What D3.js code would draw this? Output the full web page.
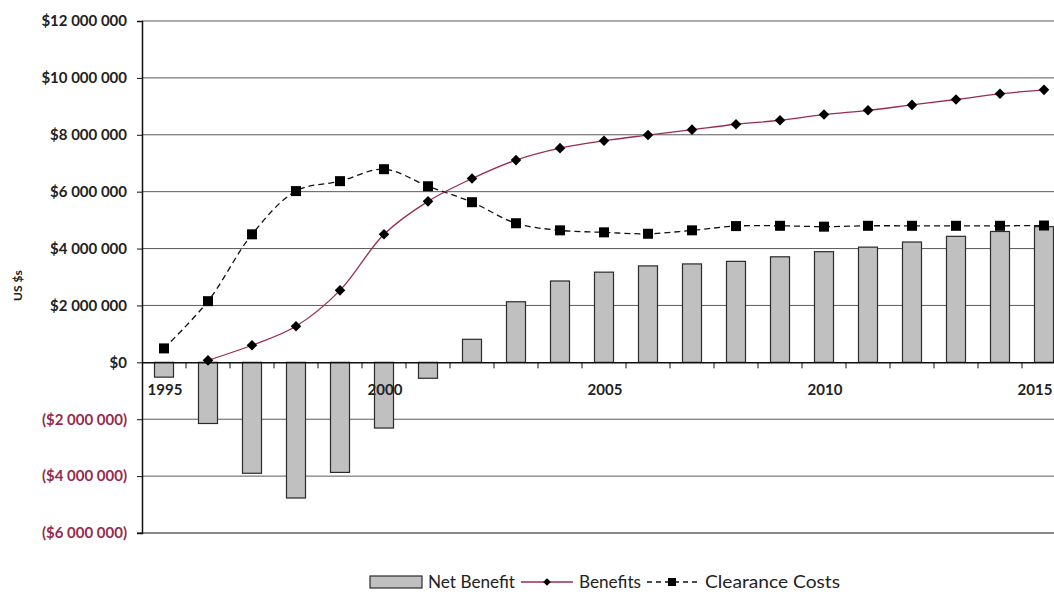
<!DOCTYPE html>
<html>
<head>
<meta charset="utf-8">
<script src="https://cdn.jsdelivr.net/npm/d3@7"></script>
<style>
  body { margin: 0; background: #fff; }
  svg { display: block; }
  text { font-family: "Lato", "DejaVu Sans", sans-serif; }
</style>
</head>
<body>
<svg id="chart" width="1054" height="594"></svg>
<script>
// chart values
const years = d3.range(1995, 2016);
const netBenefit = [-0.52, -2.15, -3.9, -4.77, -3.87, -2.31, -0.56, 0.81, 2.13, 2.86, 3.17, 3.39,
    3.46, 3.55, 3.71, 3.89, 4.05, 4.23, 4.43, 4.6, 4.77].map(v => v * 1e6);
const benefits = [null, 0.07, 0.6, 1.27, 2.53, 4.5, 5.66, 6.46, 7.11, 7.53, 7.79, 7.99,
    8.18, 8.37, 8.51, 8.71, 8.86, 9.05, 9.24, 9.44, 9.58].map(v => v === null ? null : v * 1e6);
const clearanceCosts = [0.49, 2.15, 4.5, 6.02, 6.37, 6.79, 6.19, 5.63, 4.89, 4.64, 4.57, 4.52,
    4.64, 4.79, 4.8, 4.77, 4.8, 4.8, 4.8, 4.8, 4.81].map(v => v * 1e6);
const yTicks = [-6e6, -4e6, -2e6, 0, 2e6, 4e6, 6e6, 8e6, 10e6, 12e6];
const xLabelYears = [1995, 2000, 2005, 2010, 2015];

const W = 1054;
const svg = d3.select('#chart');
const margin = { left: 142, top: 21 };
const plotBottom = 533;

const x = d3.scaleBand().domain(years).range([margin.left, margin.left + years.length * 44]);
const y = d3.scaleLinear().domain([-6e6, 12e6]).range([plotBottom, margin.top]);

const fmt = v => {
    const s = d3.format(',')(Math.abs(v)).replace(/,/g, ' ');
    return v < 0 ? '($' + s + ')' : '$' + s;
};

// gridlines
svg.append('g')
    .selectAll('line')
    .data(yTicks.filter(d => d !== 0 && d !== -6e6))
    .enter()
    .append('line')
    .attr('x1', margin.left)
    .attr('x2', W)
    .attr('y1', d => y(d))
    .attr('y2', d => y(d))
    .attr('stroke', '#5a5a5a')
    .attr('stroke-width', 1);

// y axis
const yAxis = svg.append('g')
    .attr('transform', `translate(${margin.left},0)`)
    .call(d3.axisLeft(y).tickValues(yTicks).tickSize(5).tickFormat(fmt));
yAxis.select('.domain').attr('stroke', '#111').attr('stroke-width', 1.5);
yAxis.selectAll('.tick line').attr('stroke', '#111');
yAxis.selectAll('.tick text')
    .attr('x', -15)
    .style('font-size', '15px')
    .style('font-weight', 'bold')
    .attr('fill', d => d < 0 ? '#962b4d' : '#222');

// bottom border line
svg.append('line')
    .attr('x1', margin.left - 5).attr('x2', W)
    .attr('y1', y(-6e6)).attr('y2', y(-6e6))
    .attr('stroke', '#111').attr('stroke-width', 1.2);

// y axis title
svg.append('text')
    .attr('transform', `translate(22,${y(4e6) + 37}) rotate(-90)`)
    .attr('text-anchor', 'middle')
    .style('font-size', '12px')
    .style('font-weight', 'bold')
    .attr('fill', '#222')
    .text('US $s');

// net benefit bars
const barW = 19;
svg.append('g')
    .selectAll('rect')
    .data(years.map((yr, i) => ({ yr, v: netBenefit[i] })))
    .enter()
    .append('rect')
    .attr('x', d => x(d.yr) + x.bandwidth() / 2 - barW / 2)
    .attr('width', barW)
    .attr('y', d => y(Math.max(0, d.v)))
    .attr('height', d => Math.abs(y(d.v) - y(0)))
    .attr('fill', '#c0c0c0')
    .attr('stroke', '#2a2a2a')
    .attr('stroke-width', 1.2);

// zero axis with category ticks
const xAxis = svg.append('g')
    .attr('transform', `translate(0,${y(0)})`)
    .call(d3.axisBottom(x).tickValues([]).tickSizeOuter(0));
xAxis.select('.domain').attr('stroke', '#111').attr('stroke-width', 1.5);
xAxis.selectAll('line.cat-tick')
    .data(years.slice(1))
    .enter()
    .append('line')
    .classed('cat-tick', true)
    .attr('x1', d => x(d))
    .attr('x2', d => x(d))
    .attr('y1', 0)
    .attr('y2', 6)
    .attr('stroke', '#111');
xAxis.selectAll('text.yr')
    .data(xLabelYears)
    .enter()
    .append('text')
    .classed('yr', true)
    .attr('x', d => Math.min(x(d) + x.bandwidth() / 2 + 1, W - 19))
    .attr('y', 33)
    .attr('text-anchor', 'middle')
    .style('font-size', '15px')
    .style('font-weight', 'bold')
    .attr('fill', '#222')
    .text(d => d);

const cx = yr => x(yr) + x.bandwidth() / 2;

// clearance costs, dashed
const costPts = years.map((yr, i) => [cx(yr), y(clearanceCosts[i])]);
svg.append('path')
    .attr('d', d3.line().curve(d3.curveCatmullRom)(costPts))
    .attr('fill', 'none')
    .attr('stroke', '#111')
    .attr('stroke-width', 1.3)
    .attr('stroke-dasharray', '6,4');
svg.append('g')
    .selectAll('rect')
    .data(costPts)
    .enter()
    .append('rect')
    .attr('x', d => d[0] - 5)
    .attr('y', d => d[1] - 5)
    .attr('width', 10)
    .attr('height', 10)
    .attr('fill', '#000');

// benefits, solid maroon
const benPts = years.map((yr, i) => benefits[i] === null ? null : [cx(yr), y(benefits[i])])
    .filter(d => d);
svg.append('path')
    .attr('d', d3.line().curve(d3.curveCatmullRom)(benPts))
    .attr('fill', 'none')
    .attr('stroke', '#9b2d4a')
    .attr('stroke-width', 1.3);
svg.append('g')
    .selectAll('path')
    .data(benPts)
    .enter()
    .append('path')
    .attr('transform', d => `translate(${d[0]},${d[1]}) rotate(45)`)
    .attr('d', d3.symbol().type(d3.symbolSquare).size(56))
    .attr('fill', '#000');

// legend
const lg = svg.append('g').attr('transform', 'translate(0,582)');
const lgText = (xPos, t, w) => lg.append('text')
    .attr('x', xPos).attr('y', 6)
    .attr('textLength', w)
    .attr('lengthAdjust', 'spacingAndGlyphs')
    .style('font-size', '17px')
    .attr('fill', '#222')
    .text(t);
lg.append('rect')
    .attr('x', 370).attr('y', -6).attr('width', 52).attr('height', 12)
    .attr('fill', '#c0c0c0').attr('stroke', '#2a2a2a').attr('stroke-width', 1.2);
lgText(428, 'Net Benefit', 87);
lg.append('line').attr('x1', 521).attr('x2', 573).attr('y1', 0).attr('y2', 0)
    .attr('stroke', '#9b2d4a').attr('stroke-width', 1.3);
lg.append('path').attr('transform', 'translate(547,0) rotate(45)')
    .attr('d', d3.symbol().type(d3.symbolSquare).size(30)).attr('fill', '#000');
lgText(579, 'Benefits', 62);
lg.append('line').attr('x1', 647).attr('x2', 697).attr('y1', 0).attr('y2', 0)
    .attr('stroke', '#111').attr('stroke-width', 1.3).attr('stroke-dasharray', '5,4');
lg.append('rect').attr('x', 668).attr('y', -4).attr('width', 8).attr('height', 8).attr('fill', '#000');
lgText(705, 'Clearance Costs', 135);
</script>
</body>
</html>
